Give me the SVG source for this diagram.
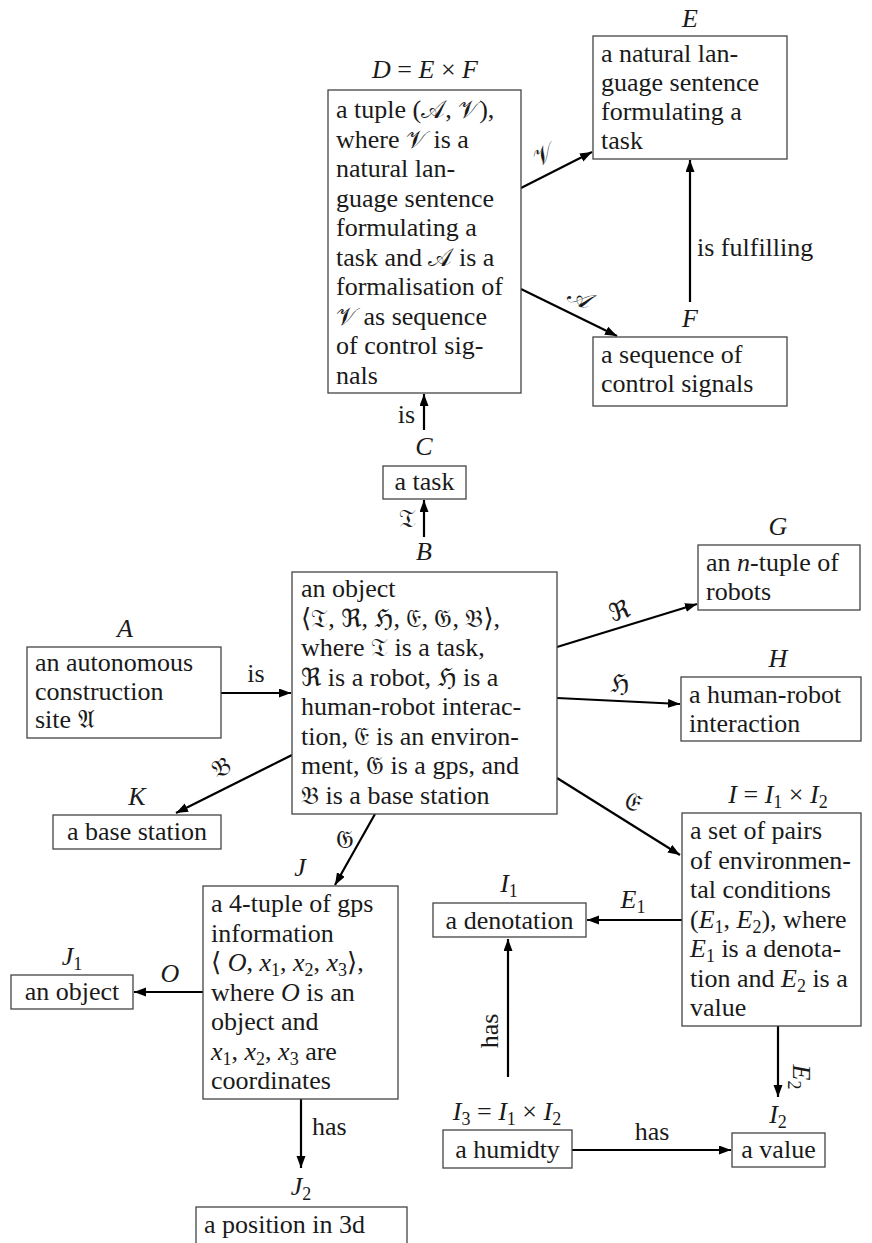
<svg xmlns="http://www.w3.org/2000/svg" width="872" height="1243" viewBox="0 0 872 1243" font-family="'Liberation Serif', 'Times New Roman', Tinos, 'DejaVu Serif', serif">
<style>
text{font-family:"Liberation Serif","Times New Roman",Tinos,"DejaVu Serif",serif;font-size:26px;fill:#1a1a1a}
.m{font-style:italic}
.c{text-anchor:middle}
.e{text-anchor:end}
.f{font-family:"DejaVu Sans","DejaVu Serif",serif;font-style:normal;font-size:25px}
.box{fill:#fff;stroke:#444;stroke-width:1.3}
.edge{stroke:#000;stroke-width:2.2;fill:none;marker-end:url(#ah)}
.s{font-size:18px}
</style>
<defs>
<marker id="ah" markerUnits="userSpaceOnUse" markerWidth="13" markerHeight="10" refX="12" refY="4.5" orient="auto">
<path d="M0,0 L12,4.5 L0,9 z" fill="#000"/>
</marker>
</defs>
<rect width="872" height="1243" fill="#fff"/>

<g id="connectors">
<line class="edge" x1="521" y1="188" x2="592" y2="152"/>
<text class="f c" transform="translate(547,162) rotate(-26.6)">𝒱</text>
<line class="edge" x1="521" y1="289" x2="617" y2="336"/>
<text class="f c" transform="translate(577,305) rotate(26)">𝒜</text>
<line class="edge" x1="690" y1="302" x2="690" y2="160"/>
<text x="697" y="256">is fulfilling</text>
<line class="edge" x1="424" y1="430" x2="424" y2="394"/>
<text class="e" x="415" y="423">is</text>
<line class="edge" x1="424" y1="537" x2="424" y2="500"/>
<text class="f e" x="416" y="527">𝔗</text>
<line class="edge" x1="221" y1="693" x2="291" y2="693"/>
<text class="c" x="256" y="682">is</text>
<line class="edge" x1="292" y1="755" x2="176" y2="813"/>
<text class="f c" transform="translate(225,775) rotate(-26.4)">𝔅</text>
<line class="edge" x1="557" y1="647" x2="697" y2="604"/>
<text class="f c" transform="translate(622,619) rotate(-17)">ℜ</text>
<line class="edge" x1="557" y1="698" x2="680" y2="704"/>
<text class="f c" x="620" y="692">ℌ</text>
<line class="edge" x1="557" y1="778" x2="680" y2="855"/>
<text class="f c" transform="translate(628,809) rotate(31.8)">𝔈</text>
<line class="edge" x1="375" y1="814" x2="335" y2="885"/>
<text class="f c" x="345" y="848">𝔊</text>
<line class="edge" x1="203" y1="992" x2="134" y2="992"/>
<text class="m c" x="170" y="982">O</text>
<line class="edge" x1="301" y1="1099" x2="301" y2="1168"/>
<text x="312" y="1135">has</text>
<line class="edge" x1="682" y1="920" x2="587" y2="920"/>
<text class="c" x="633" y="908"><tspan class="m">E</tspan><tspan class="s" dy="5">1</tspan></text>
<line class="edge" x1="778" y1="1026" x2="778" y2="1097"/>
<text class="c" transform="translate(793,1077) rotate(90)"><tspan class="m">E</tspan><tspan class="s" dy="5">2</tspan></text>
<line class="edge" x1="508" y1="1077" x2="508" y2="939"/>
<text class="c" transform="translate(498,1031) rotate(-90)">has</text>
<line class="edge" x1="572" y1="1150" x2="731" y2="1150"/>
<text class="c" x="652" y="1140">has</text>
</g>

<g id="D">
<text class="c" x="425" y="78"><tspan class="m">D</tspan> = <tspan class="m">E</tspan> × <tspan class="m">F</tspan></text>
<rect class="box" x="328" y="90" width="193" height="303"/>
<text x="336" y="118">a tuple (<tspan class="f">𝒜</tspan>, <tspan class="f">𝒱</tspan>),</text>
<text x="336" y="147.5">where <tspan class="f">𝒱</tspan> is a</text>
<text x="336" y="177">natural lan-</text>
<text x="336" y="206.5">guage sentence</text>
<text x="336" y="236">formulating a</text>
<text x="336" y="265.5">task and <tspan class="f">𝒜</tspan> is a</text>
<text x="336" y="295">formalisation of</text>
<text x="336" y="324.5"><tspan class="f">𝒱</tspan> as sequence</text>
<text x="336" y="354">of control sig-</text>
<text x="336" y="383.5">nals</text>
</g>

<g id="E">
<text class="m c" x="690" y="27">E</text>
<rect class="box" x="593" y="36" width="194" height="123"/>
<text x="601" y="62">a natural lan-</text>
<text x="601" y="91">guage sentence</text>
<text x="601" y="120">formulating a</text>
<text x="601" y="149">task</text>
</g>

<g id="F">
<text class="m c" x="690" y="327">F</text>
<rect class="box" x="593" y="337" width="194" height="69"/>
<text x="601" y="363">a sequence of</text>
<text x="601" y="392">control signals</text>
</g>

<g id="C">
<text class="m c" x="424" y="455">C</text>
<rect class="box" x="383" y="466" width="83" height="33"/>
<text class="c" x="424.5" y="490">a task</text>
</g>

<g id="B">
<text class="m c" x="424" y="560">B</text>
<rect class="box" x="292" y="572" width="265" height="242"/>
<text x="301" y="597">an object</text>
<text x="301" y="626.5">⟨<tspan class="f">𝔗</tspan>, <tspan class="f">ℜ</tspan>, <tspan class="f">ℌ</tspan>, <tspan class="f">𝔈</tspan>, <tspan class="f">𝔊</tspan>, <tspan class="f">𝔅</tspan>⟩,</text>
<text x="301" y="656">where <tspan class="f">𝔗</tspan> is a task,</text>
<text x="301" y="685.5"><tspan class="f">ℜ</tspan> is a robot, <tspan class="f">ℌ</tspan> is a</text>
<text x="301" y="715">human-robot interac-</text>
<text x="301" y="744.5">tion, <tspan class="f">𝔈</tspan> is an environ-</text>
<text x="301" y="774">ment, <tspan class="f">𝔊</tspan> is a gps, and</text>
<text x="301" y="803.5"><tspan class="f">𝔅</tspan> is a base station</text>
</g>

<g id="A">
<text class="m c" x="125" y="637">A</text>
<rect class="box" x="27" y="647" width="194" height="91"/>
<text x="35" y="671">an autonomous</text>
<text x="35" y="700">construction</text>
<text x="35" y="728">site <tspan class="f">𝔄</tspan></text>
</g>

<g id="K">
<text class="m c" x="137" y="805">K</text>
<rect class="box" x="53" y="815" width="168" height="34"/>
<text class="c" x="137" y="840">a base station</text>
</g>

<g id="G">
<text class="m c" x="778" y="535">G</text>
<rect class="box" x="698" y="545" width="162" height="65"/>
<text x="706" y="571">an <tspan class="m">n</tspan>-tuple of</text>
<text x="706" y="600">robots</text>
</g>

<g id="H">
<text class="m c" x="778" y="667">H</text>
<rect class="box" x="681" y="677" width="180" height="64"/>
<text x="689" y="703">a human-robot</text>
<text x="689" y="732">interaction</text>
</g>

<g id="I">
<text class="c" x="778" y="803"><tspan class="m">I</tspan> = <tspan class="m">I</tspan><tspan class="s" dy="5">1</tspan><tspan dy="-5"> × </tspan><tspan class="m">I</tspan><tspan class="s" dy="5">2</tspan></text>
<rect class="box" x="682" y="813" width="179" height="213"/>
<text x="690" y="839">a set of pairs</text>
<text x="690" y="868.5">of environmen-</text>
<text x="690" y="898">tal conditions</text>
<text x="690" y="927.5">(<tspan class="m">E</tspan><tspan class="s" dy="5">1</tspan><tspan dy="-5">, </tspan><tspan class="m">E</tspan><tspan class="s" dy="5">2</tspan><tspan dy="-5">), where</tspan></text>
<text x="690" y="957"><tspan class="m">E</tspan><tspan class="s" dy="5">1</tspan><tspan dy="-5"> is a denota-</tspan></text>
<text x="690" y="986.5">tion and <tspan class="m">E</tspan><tspan class="s" dy="5">2</tspan><tspan dy="-5"> is a</tspan></text>
<text x="690" y="1016">value</text>
</g>

<g id="I1">
<text class="c" x="509" y="892"><tspan class="m">I</tspan><tspan class="s" dy="5">1</tspan></text>
<rect class="box" x="433" y="903" width="153" height="34"/>
<text class="c" x="509.5" y="929">a denotation</text>
</g>

<g id="I3">
<text class="c" x="507" y="1120"><tspan class="m">I</tspan><tspan class="s" dy="5">3</tspan><tspan dy="-5"> = </tspan><tspan class="m">I</tspan><tspan class="s" dy="5">1</tspan><tspan dy="-5"> × </tspan><tspan class="m">I</tspan><tspan class="s" dy="5">2</tspan></text>
<rect class="box" x="443" y="1130" width="129" height="38"/>
<text class="c" x="507.5" y="1158">a humidty</text>
</g>

<g id="I2">
<text class="c" x="778" y="1123"><tspan class="m">I</tspan><tspan class="s" dy="5">2</tspan></text>
<rect class="box" x="732" y="1133" width="93" height="34"/>
<text class="c" x="778.5" y="1158">a value</text>
</g>

<g id="J">
<text class="m c" x="300" y="876">J</text>
<rect class="box" x="203" y="886" width="195" height="213"/>
<text x="211" y="912">a 4-tuple of gps</text>
<text x="211" y="941.5">information</text>
<text x="211" y="971">⟨ <tspan class="m">O</tspan>, <tspan class="m">x</tspan><tspan class="s" dy="5">1</tspan><tspan dy="-5">, </tspan><tspan class="m">x</tspan><tspan class="s" dy="5">2</tspan><tspan dy="-5">, </tspan><tspan class="m">x</tspan><tspan class="s" dy="5">3</tspan><tspan dy="-5">⟩,</tspan></text>
<text x="211" y="1000.5">where <tspan class="m">O</tspan> is an</text>
<text x="211" y="1030">object and</text>
<text x="211" y="1059.5"><tspan class="m">x</tspan><tspan class="s" dy="5">1</tspan><tspan dy="-5">, </tspan><tspan class="m">x</tspan><tspan class="s" dy="5">2</tspan><tspan dy="-5">, </tspan><tspan class="m">x</tspan><tspan class="s" dy="5">3</tspan><tspan dy="-5"> are</tspan></text>
<text x="211" y="1089">coordinates</text>
</g>

<g id="J1">
<text class="c" x="72" y="965"><tspan class="m">J</tspan><tspan class="s" dy="5">1</tspan></text>
<rect class="box" x="11" y="975" width="122" height="34"/>
<text class="c" x="72" y="1000">an object</text>
</g>

<g id="J2">
<text class="c" x="301" y="1195"><tspan class="m">J</tspan><tspan class="s" dy="5">2</tspan></text>
<rect class="box" x="196" y="1207" width="211" height="50"/>
<text x="204" y="1233">a position in 3d</text>
</g>
</svg>
